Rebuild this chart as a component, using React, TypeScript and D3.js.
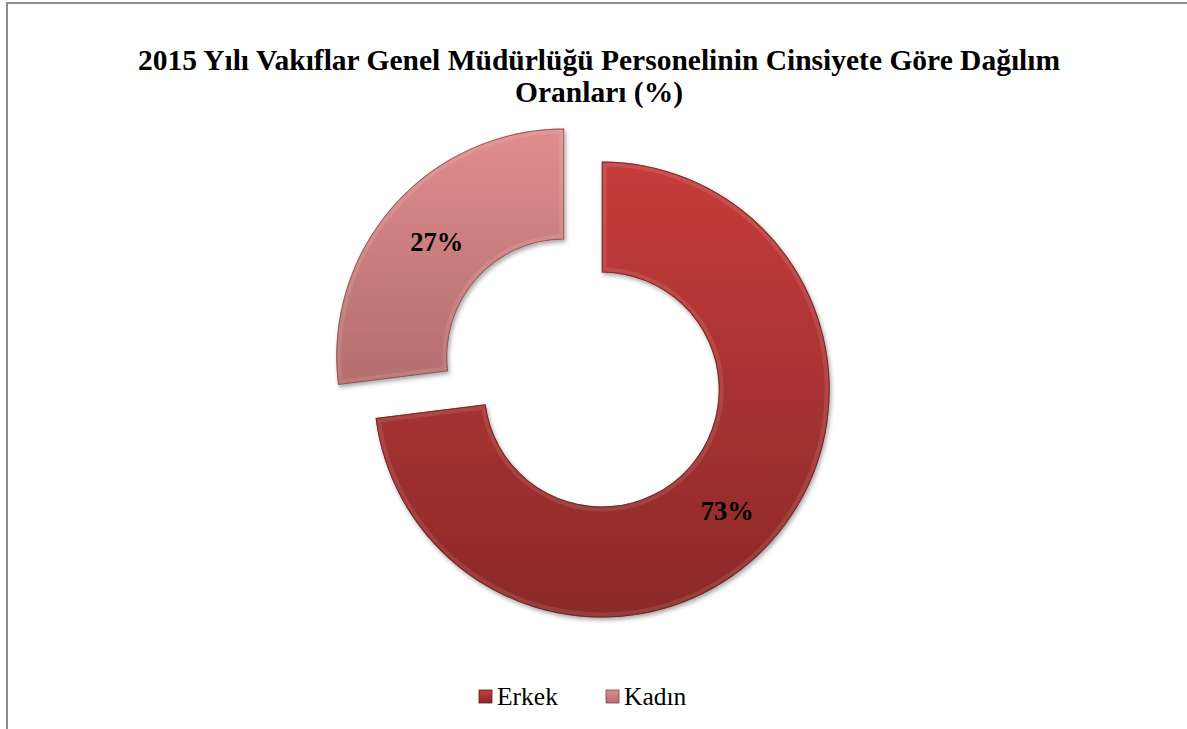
import React from "react";
import * as d3 from "d3";

const TITLE_LINES = [
  "2015 Yılı Vakıflar Genel Müdürlüğü Personelinin Cinsiyete Göre Dağılım",
  "Oranları (%)",
];
const CATEGORIES = ["Erkek", "Kadın"];
const VALUES = [73, 27];
const LABELS = ["73%", "27%"];
const TOP_COLORS = ["#c63c3b", "#e08d8d"];
const BOTTOM_COLORS = ["#8a2928", "#b46d6d"];
const EDGE_COLORS = ["#5e1a19", "#7d4646"];

const W = 1187;
const H = 729;
const CX = 583;
const CY = 373;
const R_OUT = 228;
const R_IN = 117;
const EXPLODE = 25;
const FONT = "Liberation Serif";

export default function App() {
  const pie = d3.pie<number>().sort(null).value((d) => d);
  const arcs = pie(VALUES);
  const arcGen = d3.arc<d3.PieArcDatum<number>>().innerRadius(R_IN).outerRadius(R_OUT);
  const labelArc = d3
    .arc<d3.PieArcDatum<number>>()
    .innerRadius((R_IN + R_OUT) / 2)
    .outerRadius((R_IN + R_OUT) / 2);

  return (
    <svg
      width={W}
      height={H}
      style={{ position: "absolute", left: 0, top: 0, background: "#fff" }}
    >
      <defs>
        {CATEGORIES.map((c, i) => (
          <linearGradient key={c} id={`grad${i}`} x1="0" y1="0" x2="0" y2="1">
            <stop offset="0%" stopColor={TOP_COLORS[i]} />
            <stop offset="100%" stopColor={BOTTOM_COLORS[i]} />
          </linearGradient>
        ))}
        <filter id="shadow" x="-20%" y="-20%" width="140%" height="140%">
          <feDropShadow dx="1.5" dy="2.5" stdDeviation="2" floodColor="#000" floodOpacity="0.35" />
        </filter>
        {arcs.map((a, i) => {
          const m = (a.startAngle + a.endAngle) / 2;
          const ox = Math.sin(m) * EXPLODE;
          const oy = -Math.cos(m) * EXPLODE;
          return (
            <clipPath key={i} id={`clip${i}`}>
              <path d={arcGen(a) || ""} transform={`translate(${CX + ox},${CY + oy})`} />
            </clipPath>
          );
        })}
      </defs>

      <rect x={7} y={3} width={W + 20} height={H + 20} fill="#fff" stroke="#8c8c8c" strokeWidth={2} />

      {TITLE_LINES.map((t, i) => (
        <text
          key={i}
          x={599}
          y={70 + i * 32}
          textAnchor="middle"
          style={{ fontFamily: FONT, fontWeight: 700, fontSize: "29.5px" }}
          fill="#000"
        >
          {t}
        </text>
      ))}

      {arcs.map((a, i) => {
        const m = (a.startAngle + a.endAngle) / 2;
        const ox = Math.sin(m) * EXPLODE;
        const oy = -Math.cos(m) * EXPLODE;
        const d = arcGen(a) || "";
        const [lx, ly] = labelArc.centroid(a);
        return (
          <g key={i}>
            <g transform={`translate(${CX + ox},${CY + oy})`}>
              <path d={d} fill={`url(#grad${i})`} filter="url(#shadow)" />
            </g>
            <g clipPath={`url(#clip${i})`}>
              <g transform={`translate(${CX + ox},${CY + oy})`}>
                <path d={d} fill="none" stroke="#fff" strokeOpacity={0.1} strokeWidth={10} />
                <path d={d} fill="none" stroke={EDGE_COLORS[i]} strokeOpacity={0.7} strokeWidth={2} />
              </g>
            </g>
            <text
              x={CX + ox + lx + (i === 0 ? -4 : 2)}
              y={CY + oy + ly + (i === 0 ? 16 : 9)}
              textAnchor="middle"
              style={{ fontFamily: FONT, fontWeight: 700, fontSize: "26.5px" }}
              fill="#000"
            >
              {LABELS[i]}
            </text>
          </g>
        );
      })}

      {CATEGORIES.map((c, i) => {
        const x0 = i === 0 ? 479 : 606;
        return (
          <g key={c}>
            <rect x={x0} y={690} width={13} height={13} fill={`url(#grad${i})`} stroke={EDGE_COLORS[i]} strokeWidth={0.8} />
            <text x={x0 + 18} y={705} style={{ fontFamily: FONT, fontSize: "25.5px" }} fill="#000">
              {c}
            </text>
          </g>
        );
      })}
    </svg>
  );
}
